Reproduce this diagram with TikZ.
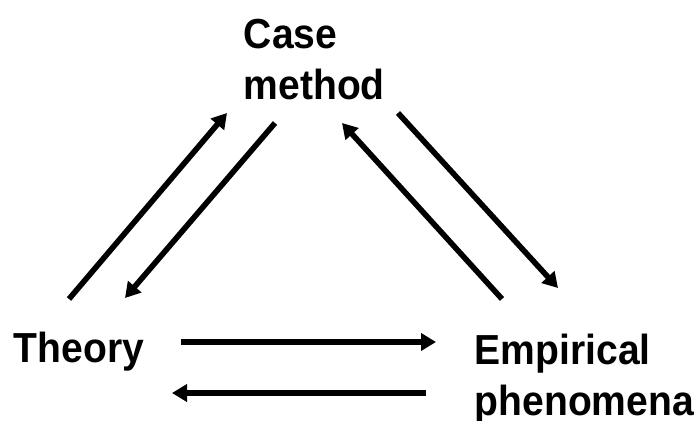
\documentclass[tikz,border=0pt]{standalone}
\usepackage{fontspec}
\setmainfont{Liberation Sans}[FakeStretch=0.93]
\usepackage{tikz}
\usetikzlibrary{arrows.meta}

\begin{document}
\begin{tikzpicture}[x=0.5pt, y=-0.5pt, line width=2.8pt,
        >={Triangle[length=7.5pt,width=8.5pt]},
        every node/.style={inner sep=0pt, align=left,
          font=\fontsize{21pt}{25.5pt}\selectfont\bfseries}]
        \useasboundingbox (0, 0) rectangle (699, 421);

        \node[anchor=north west](CM) at (241, 16) {Case\\method};
        \node[anchor=base west](Th) at (11, 362) {Theory};
        \node[anchor=north west](EP) at (472, 331) {Empirical\\phenomena};

        \path[->] ([shift={(58,-63)}]Th.base west) edge ([shift={(-14,97)}]CM.north west)
                  ([shift={(34,107)}]CM.north west) edge ([shift={(114,-64)}]Th.base west)
                  ([shift={(30,-32)}]EP.north west) edge ([shift={(101,107)}]CM.north west)
                  ([shift={(157,97)}]CM.north west) edge ([shift={(86,-43)}]EP.north west)
                  ([shift={(170,-20)}]Th.base west) edge ([shift={(-36,11)}]EP.north west)
                  ([shift={(-46,62)}]EP.north west) edge ([shift={(161,31)}]Th.base west);
      \end{tikzpicture}
\end{document}
